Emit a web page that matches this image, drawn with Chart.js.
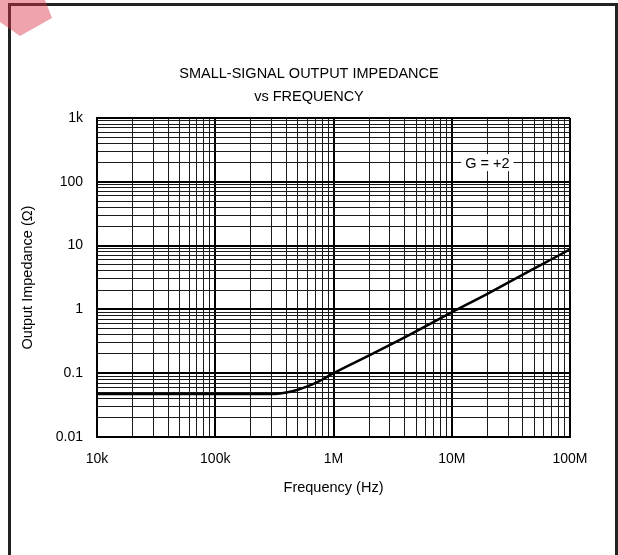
<!DOCTYPE html>
<html lang="en">
<head>
    <meta charset="UTF-8">
    <title>Small-Signal Output Impedance vs Frequency</title>
    <script src="https://cdn.jsdelivr.net/npm/chart.js"></script>
    <style>
        html, body { margin: 0; padding: 0; background: #fff; overflow: hidden; }
        #wrap { position: relative; width: 618px; height: 555px; }
        #frame {
            position: absolute; left: 8px; top: 3px; width: 604px; height: 600px;
            border: 3px solid #222; border-bottom: none;
        }
        #mark {
            position: absolute; left: 0; top: 0; width: 60px; height: 40px;
            background: rgba(220, 50, 70, 0.45);
            clip-path: polygon(0 0, 45px 0, 52px 18px, 20px 36px, 0 22px);
        }
        canvas { position: absolute; left: 0; top: 0; }
    </style>
</head>
<body>
<div id="wrap">
    <div id="frame"></div>
    <canvas id="zChart" width="618" height="555"></canvas>
    <div id="mark"></div>
</div>
<script>
    // values
    const freqHz = [1e4, 1e5, 2e5, 3e5, 4e5, 5e5, 6e5, 7e5, 8e5, 1e6, 2e6, 3.6e6, 1e7, 2e7, 5e7, 1e8];
    const zOhm   = [0.047, 0.047, 0.047, 0.047, 0.05, 0.055, 0.062, 0.07, 0.079, 0.1, 0.19, 0.33, 0.9, 1.75, 4.4, 8.7];

    const xDecades = [1e4, 1e5, 1e6, 1e7, 1e8];
    const xLabels  = ['10k', '100k', '1M', '10M', '100M'];
    const yDecades = [0.01, 0.1, 1, 10, 100, 1000];
    const yLabels  = ['0.01', '0.1', '1', '10', '100', '1k'];

    const titleLines = ['SMALL-SIGNAL OUTPUT IMPEDANCE', 'vs FREQUENCY'];
    const noteText = 'G = +2';
    const noteAt = { x: 2e7, y: 200 };

    const FONT = '"Liberation Sans", Arial, sans-serif';

    // grid lines at 1..9 of every decade
    function logTicks(decades) {
        const out = [];
        decades.forEach((d, i) => {
            if (i === decades.length - 1) { out.push({ value: d }); return; }
            for (let k = 1; k <= 9; k++) out.push({ value: +(d * k).toPrecision(3) });
        });
        return out;
    }
    function labelFor(decades, labels, v) {
        const i = decades.findIndex(d => Math.abs(d - v) / d < 1e-6);
        return i >= 0 ? labels[i] : '';
    }
    function isDecade(decades, v) {
        return decades.some(d => Math.abs(d - v) / d < 1e-6);
    }

    const titlePlugin = {
        id: 'twoLineTitle',
        afterDraw(chart) {
            const ctx = chart.ctx;
            ctx.save();
            ctx.fillStyle = '#000';
            ctx.font = '14.5px ' + FONT;
            ctx.textAlign = 'center';
            ctx.textBaseline = 'middle';
            ctx.fillText(titleLines[0], chart.width / 2, 74);
            ctx.fillText(titleLines[1], chart.width / 2, 97);
            ctx.restore();
        }
    };

    const notePlugin = {
        id: 'gainNote',
        afterDatasetsDraw(chart) {
            const ctx = chart.ctx;
            const x = chart.scales.x.getPixelForValue(noteAt.x);
            const y = chart.scales.y.getPixelForValue(noteAt.y);
            ctx.save();
            ctx.font = '14.5px ' + FONT;
            const w = ctx.measureText(noteText).width + 8;
            ctx.fillStyle = '#fff';
            ctx.fillRect(x - w / 2, y - 8.5, w, 17);
            ctx.fillStyle = '#000';
            ctx.textAlign = 'center';
            ctx.textBaseline = 'middle';
            ctx.fillText(noteText, x, y + 1);
            ctx.restore();
        }
    };

    const ctx = document.getElementById('zChart').getContext('2d');
    new Chart(ctx, {
        type: 'line',
        data: {
            datasets: [{
                data: freqHz.map((f, i) => ({ x: f, y: zOhm[i] })),
                borderColor: '#000',
                borderWidth: 2.5,
                pointRadius: 0,
                cubicInterpolationMode: 'monotone',
                fill: false
            }]
        },
        options: {
            responsive: false,
            animation: false,
            layout: { padding: { left: 10, right: 48, top: 118, bottom: 58 } },
            plugins: { legend: { display: false }, tooltip: { enabled: false }, title: { display: false } },
            scales: {
                x: {
                    type: 'logarithmic',
                    min: 1e4,
                    max: 1e8,
                    afterBuildTicks: s => { s.ticks = logTicks(xDecades); },
                    afterFit: s => { s.height = 60; },
                    ticks: {
                        autoSkip: false,
                        maxRotation: 0,
                        padding: 14,
                        color: '#000',
                        font: { family: FONT, size: 14 },
                        callback: v => labelFor(xDecades, xLabels, v)
                    },
                    grid: {
                        drawTicks: false,
                        color: c => (c.tick && isDecade(xDecades, c.tick.value)) ? '#000' : '#1a1a1a',
                        lineWidth: c => (c.tick && isDecade(xDecades, c.tick.value)) ? 2 : 1
                    },
                    border: { color: '#000', width: 2 },
                    title: {
                        display: true,
                        text: 'Frequency (Hz)',
                        color: '#000',
                        font: { family: FONT, size: 14.5 },
                        padding: { top: 0, bottom: 0 }
                    }
                },
                y: {
                    type: 'logarithmic',
                    min: 0.01,
                    max: 1000,
                    afterBuildTicks: s => { s.ticks = logTicks(yDecades); },
                    afterFit: s => { s.width = 87; },
                    ticks: {
                        autoSkip: false,
                        padding: 14,
                        color: '#000',
                        font: { family: FONT, size: 14 },
                        callback: v => labelFor(yDecades, yLabels, v)
                    },
                    grid: {
                        drawTicks: false,
                        color: c => (c.tick && isDecade(yDecades, c.tick.value)) ? '#000' : '#1a1a1a',
                        lineWidth: c => (c.tick && isDecade(yDecades, c.tick.value)) ? 2 : 1
                    },
                    border: { color: '#000', width: 2 },
                    title: {
                        display: true,
                        text: 'Output Impedance (Ω)',
                        color: '#000',
                        font: { family: FONT, size: 14.5 },
                        padding: { top: 9, bottom: 0 }
                    }
                }
            }
        },
        plugins: [titlePlugin, notePlugin]
    });
</script>
</body>
</html>
